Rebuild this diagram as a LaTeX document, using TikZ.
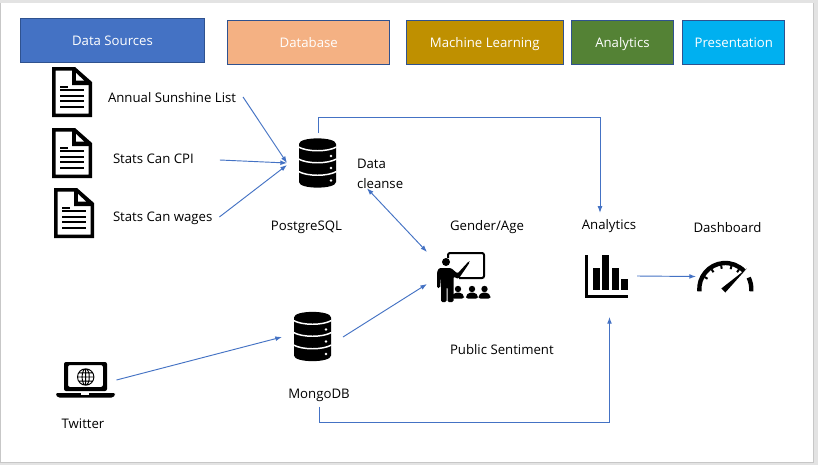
\documentclass[tikz,border=0pt]{standalone}
\usepackage{fontspec}
\setmainfont{Open Sans}
\usetikzlibrary{arrows.meta}
\definecolor{lnk}{HTML}{4472C4}
\definecolor{bd}{HTML}{2F528F}
\definecolor{cDb}{HTML}{F4B183}
\definecolor{cMl}{HTML}{BF9000}
\definecolor{cAn}{HTML}{548235}
\definecolor{cPr}{HTML}{00B0F0}
\tikzset{
 x=0.75pt,y=-0.75pt,
 hdr/.style 2 args={draw=bd,line width=0.7pt,fill=#1,minimum width=0.75pt*#2,minimum height=0.75pt*44.5,inner sep=0pt,anchor=north west,text=white,text height=10.2pt,text depth=2.2pt,font=\fontsize{9.9}{12}\selectfont},
 lab/.style={font=\fontsize{9.9}{14.8}\selectfont,text=black,inner sep=0pt,outer sep=0pt,align=left},
 conn/.style={draw=lnk,line width=0.7pt,-{Latex[length=5pt,width=3.6pt]}},
 dconn/.style={draw=lnk,line width=0.7pt,{Latex[length=5pt,width=3.6pt]}-{Latex[length=5pt,width=3.6pt]}},
 iconbox/.style 2 args={inner sep=0pt,outer sep=0pt,minimum width=0.75pt*#1,minimum height=0.75pt*#2},
 pics/docicon/.style={code={
   \fill[even odd rule] (0,0)--(23,0)--(40,15)--(40,50)--(0,50)--cycle (3.5,3.5)--(3.5,46.5)--(36.5,46.5)--(36.5,17)--(20.5,17)--(20.5,3.5)--cycle;
   \fill (20,2) -- (24,2) -- (38,15) -- (38,18) -- (20,18) -- cycle;
   \fill[white] (24,6) -- (24,13.5) -- (32,13.5) -- cycle;
   \fill (7.5,18.5) rectangle (16,20.5);
   \foreach \yy in {23,29,34,40}{\fill (7.5,\yy-1) rectangle (32,\yy+1);}
 }},
 pics/dbicon/.style={code={
   \fill (-18.5,-19) .. controls (-18.5,-26.5) and (18.5,-26.5) .. (18.5,-19) -- (18.5,19) .. controls (18.5,26.5) and (-18.5,26.5) .. (-18.5,19) -- cycle;
   \foreach \yy in {-16,-4,8.5}{\draw[white,line width=1.1pt] (-19,\yy) .. controls (-10,\yy+5) and (10,\yy+5) .. (19,\yy);}
   \foreach \yy in {-7,5,17.5}{\fill[white] (13.5,\yy) circle[radius=1.3];}
 }},
 pics/laptopicon/.style={code={
   \fill[rounded corners=1.5pt,even odd rule] (0,0) rectangle (43,29) (4,3) rectangle (39,25);
   \fill[rounded corners=1pt] (-8,31) -- (51,31) -- (51,33) -- (49,35.5) -- (-6,35.5) -- (-8,33) -- cycle;
   \fill[white] (17,31) rectangle (25,32.5);
   \draw[line width=0.7pt] (21.7,15) circle[radius=8.2] (13.5,15)--(29.9,15) (21.7,6.8)--(21.7,23.2)
     (21.7,15) ellipse[x radius=3.6,y radius=8.2]
     (14.8,10.8)--(28.6,10.8) (14.8,19.2)--(28.6,19.2);
 }},
 pics/teachicon/.style={code={
   \draw[line width=1.5pt,rounded corners=1.5pt] (11,6) -- (11,1) -- (47,1) -- (47,26) -- (22,26);
   \fill (9,10) circle[radius=4];
   \fill[rounded corners=1pt] (0,20) -- (2,16) -- (14,16) -- (20.5,21.5) -- (32,9) -- (33,10) -- (21.5,27) -- (16.5,24.5) -- (16.5,50) -- (10.5,50) -- (10.5,35) -- (9.5,35) -- (9.5,50) -- (4,50) -- (4,34) -- (3.6,24) -- (3,36) -- (0,36) -- cycle;
   \foreach \xx in {21,35,47.5}{
     \fill (\xx,37) circle[radius=3.2];
     \fill[rounded corners=1.5pt] (\xx-6,46.5) -- (\xx-6,43.5) -- (\xx-3,40.5) -- (\xx+3,40.5) -- (\xx+6,43.5) -- (\xx+6,46.5) -- cycle;
   }
 }},
 pics/charticon/.style={code={
   \fill (0,0) rectangle (3,43);
   \fill (0,40) rectangle (43,43);
   \fill (7.7,13) rectangle (15,35);
   \fill (17,0) rectangle (24.3,35);
   \fill (26.7,13) rectangle (34,35);
   \fill (36,24) rectangle (43,35);
 }},
 pics/gaugeicon/.style={code={
   \draw[line width=3.3pt] (175:26) arc[start angle=175,end angle=316,radius=26];
   \draw[line width=3.3pt] (334:26) arc[start angle=334,end angle=365,radius=26];
   \foreach \aa in {210,235,260,285,305}{\draw[line width=1.5pt] (\aa:24) -- (\aa:20.5);}
   \fill (-4,-0.5) -- (0,3.5) -- (21.5,-20.5) -- cycle;
 }},
}
\begin{document}
\begin{tikzpicture}
\useasboundingbox (0,0) rectangle (818,465);
\fill[black!11] (0,0) rectangle (818,465);
\fill[black!22] (0.5,2.5) rectangle (814,463);
\fill[white] (1,3.3) rectangle (813,462);

% header boxes
\node[hdr={lnk}{184}] (hData) at (20,17.5) {Data Sources};
\node[hdr={cDb}{162}] (hDb) at (227.3,19.5) {Database};
\node[hdr={cMl}{157.5}] (hMl) at (405.5,19.5) {Machine Learning};
\node[hdr={cAn}{102}] (hAn) at (571,19.5) {Analytics};
\node[hdr={cPr}{102}] (hPr) at (682.3,19.5) {Presentation};

% icons
\node[iconbox={40}{50}] (doc1) at (72,92) {};
\node[iconbox={40}{50}] (doc2) at (72,153) {};
\node[iconbox={40}{50}] (doc3) at (74,213) {};
\node[iconbox={37}{48}] (pg) at (317.5,163) {};
\node[iconbox={37}{48}] (mongo) at (312.5,336.5) {};
\node[iconbox={59}{36}] (laptop) at (85.5,380) {};
\node[iconbox={54}{50}] (teach) at (464,277) {};
\node[iconbox={43}{43}] (chart) at (606.5,276.5) {};
\node[iconbox={56}{30}] (gauge) at (725.5,276.5) {};
\pic at (doc1.north west) {docicon};
\pic at (doc2.north west) {docicon};
\pic at (doc3.north west) {docicon};
\pic at (pg.center) {dbicon};
\pic at (mongo.center) {dbicon};
\pic at (64,362) {laptopicon};
\pic at (teach.north west) {teachicon};
\pic at (chart.north west) {charticon};
\pic at (725.3,289) {gaugeicon};

% labels
\node[lab,anchor=west] (sun) at (108,98) {Annual Sunshine List};
\node[lab,anchor=west] (cpi) at (113,159) {Stats Can CPI};
\node[lab,anchor=west] (wages) at (113,218) {Stats Can wages};
\node[lab] (pgl) at (306.5,227) {PostgreSQL};
\node[lab,anchor=north west] (cleanse) at (357,159) {Data\\cleanse};
\node[lab] (gender) at (487,227) {Gender/Age};
\node[lab] (anl) at (609,226) {Analytics};
\node[lab] (dash) at (727.5,228) {Dashboard};
\node[lab,anchor=west] (pub) at (450,350) {Public Sentiment};
\node[lab] (mongol) at (319,395) {MongoDB};
\node[lab] (tw) at (83,424) {Twitter};

% connectors
\draw[conn] ([shift={(7,-1)}]sun.east) -- ([shift={(-12,0)}]pg.west);
\draw[conn] ([shift={(26,1)}]cpi.east) -- ([shift={(-12,0)}]pg.west);
\draw[conn] ([shift={(7,-1)}]wages.east) -- ([shift={(-12,2)}]pg.west);
\draw[conn] ([shift={(0.5,-6)}]pg.north) |- ([shift={(-9,-101.5)}]anl.north) -- ([shift={(-9,-6.5)}]anl.north);
\draw[dconn] ([shift={(10,0)}]cleanse.south west) -- ([shift={(-10,0)}]teach.north west);
\draw[conn] ([shift={(1.5,0)}]laptop.east) -- ([shift={(-12,0.5)}]mongo.west);
\draw[conn] ([shift={(12,0.5)}]mongo.east) -- ([shift={(-10,7)}]teach.west);
\draw[conn] ([shift={(0.5,5.5)}]mongol.south) |- ([shift={(3,124)}]chart.south) -- ([shift={(3,19)}]chart.south);
\draw[conn] ([shift={(9,-0.5)}]chart.east) -- ([shift={(-1.5,0)}]gauge.west);
\end{tikzpicture}
\end{document}
